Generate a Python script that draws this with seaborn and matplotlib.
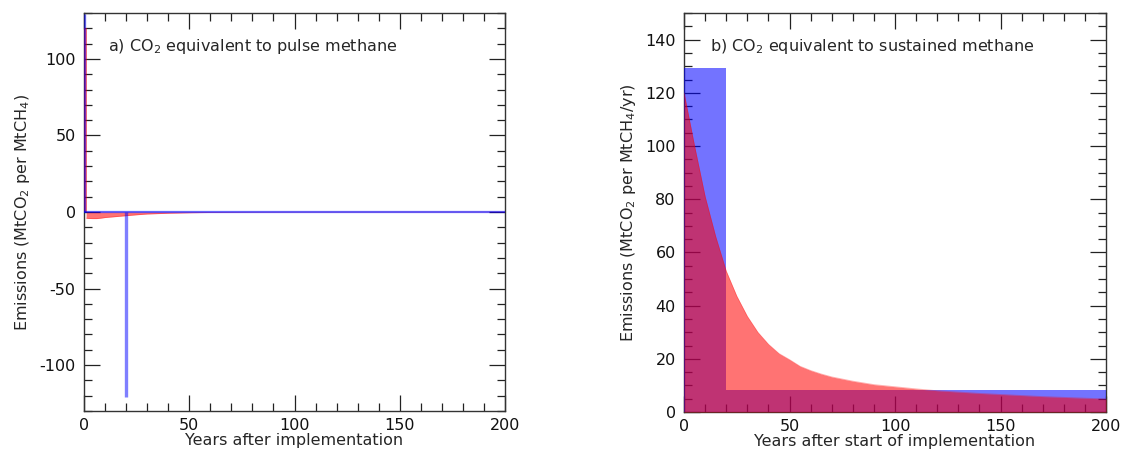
import numpy as np
import pandas as pd
import matplotlib
matplotlib.use("Agg")
import matplotlib.pyplot as plt
import seaborn as sns
from matplotlib.ticker import MultipleLocator

# ---------------- data ----------------
# a) pulse methane
pulse_red_years = [0, 1, 2, 4, 6, 8, 10, 15, 20, 25, 30, 40, 50, 60, 80, 100, 150, 200]
pulse_red_values = [120, -4.0, -4.2, -4.3, -4.3, -4.0, -3.6, -3.0, -2.4, -1.8, -1.3,
                    -0.8, -0.5, -0.3, -0.15, -0.08, -0.03, -0.02]
pulse_blue_years = [0, 20]
pulse_blue_values = [129.5, -121.0]

# b) sustained methane
sustained_red_years = [0, 5, 10, 15, 20, 25, 30, 35, 40, 45, 50, 55, 60, 65, 70, 80, 90,
                       100, 110, 120, 130, 140, 150, 160, 170, 180, 190, 200]
sustained_red_values = [120, 100, 81, 66, 53, 43.6, 36, 30, 25.5, 22, 19.7, 17.2, 15.6,
                        14.3, 13.2, 11.6, 10.3, 9.5, 8.7, 8.0, 7.5, 7.0, 6.6, 6.2, 5.8,
                        5.5, 5.2, 4.9]
sustained_blue_years = [0, 20, 200]
sustained_blue_values = [129.5, 8.4, 8.4]

title_a = r"a) CO$_2$ equivalent to pulse methane"
title_b = r"b) CO$_2$ equivalent to sustained methane"
ylabel_a = r"Emissions (MtCO$_2$ per MtCH$_4$)"
ylabel_b = r"Emissions (MtCO$_2$ per MtCH$_4$/yr)"
xlabel_a = "Years after implementation"
xlabel_b = "Years after start of implementation"

# ---------------- style ----------------
sns.set_theme(style="ticks")
plt.rcParams.update({
    "font.family": ["DejaVu Sans"],
    "axes.unicode_minus": False,
    "xtick.direction": "in", "ytick.direction": "in",
    "xtick.top": True, "ytick.right": True,
    "xtick.major.size": 11.5, "ytick.major.size": 11.5,
    "xtick.minor.size": 6, "ytick.minor.size": 6,
    "xtick.major.width": 0.9, "ytick.major.width": 0.9,
    "xtick.minor.width": 0.9, "ytick.minor.width": 0.9,
    "xtick.color": "#222222", "ytick.color": "#222222",
    "xtick.labelcolor": "#111111", "ytick.labelcolor": "#111111",
    "axes.edgecolor": "#333333", "axes.linewidth": 1.0,
    "xtick.major.pad": 5, "ytick.major.pad": 6,
})

RED = "#ff0000"
BLUE = "#0000ff"
A = 0.55
FS = 11.5

fig = plt.figure(figsize=(11.26, 4.5), dpi=100)
ax1 = fig.add_axes([84 / 1126, 39 / 450, 421 / 1126, 398 / 450])
ax2 = fig.add_axes([684 / 1126, 38 / 450, 422 / 1126, 399 / 450])

# ---- panel a ----
# first-year pulse as a one-year bar, the rest as a smooth area
ax1.bar(pulse_red_years[:1], pulse_red_values[:1], width=1.2, align="edge", color=RED,
        alpha=A, lw=0, zorder=3)
ax1.fill_between(pulse_red_years[1:], pulse_red_values[1:], 0, color=RED, alpha=A,
                 lw=0, zorder=3)
sns.lineplot(x=pulse_red_years[1:], y=pulse_red_values[1:], ax=ax1, color=RED, alpha=0.3,
             lw=0.6, zorder=3)
ax1.hlines(0, 0, 200, color=BLUE, alpha=0.6, lw=1.6, zorder=4)
ax1.vlines(pulse_blue_years, 0, pulse_blue_values, color=BLUE, alpha=0.5, lw=2.4, zorder=4)
ax1.set_xlim(0, 200)
ax1.set_ylim(-130, 130)
ax1.xaxis.set_major_locator(MultipleLocator(50))
ax1.xaxis.set_minor_locator(MultipleLocator(10))
ax1.yaxis.set_major_locator(MultipleLocator(50))
ax1.yaxis.set_minor_locator(MultipleLocator(10))
ax1.text(0.057, 0.917, title_a, transform=ax1.transAxes, fontsize=FS, va="center", ha="left")
ax1.set_xlabel(xlabel_a, fontsize=FS, labelpad=0)
ax1.set_ylabel(ylabel_a, fontsize=FS, labelpad=5)

# ---- panel b ----
ax2.fill_between(sustained_blue_years, sustained_blue_values, 0, step="post",
                 color=BLUE, alpha=A, lw=0, zorder=2)
ax2.fill_between(sustained_red_years, sustained_red_values, 0, color=RED, alpha=A, lw=0, zorder=3)
sns.lineplot(x=sustained_red_years, y=sustained_red_values, ax=ax2, color=RED, alpha=0.3,
             lw=0.6, zorder=3)
ax2.set_xlim(0, 200)
ax2.set_ylim(0, 150)
ax2.xaxis.set_major_locator(MultipleLocator(50))
ax2.xaxis.set_minor_locator(MultipleLocator(10))
ax2.yaxis.set_major_locator(MultipleLocator(20))
ax2.yaxis.set_minor_locator(MultipleLocator(5))
ax2.text(0.062, 0.917, title_b, transform=ax2.transAxes, fontsize=FS, va="center", ha="left")
ax2.set_xlabel(xlabel_b, fontsize=FS, labelpad=0)
ax2.set_ylabel(ylabel_b, fontsize=FS, labelpad=5)

for ax in (ax1, ax2):
    ax.tick_params(labelsize=FS)
    for s in ax.spines.values():
        s.set_visible(True)
        s.set_zorder(1)

fig.savefig("out.png", dpi=100)
